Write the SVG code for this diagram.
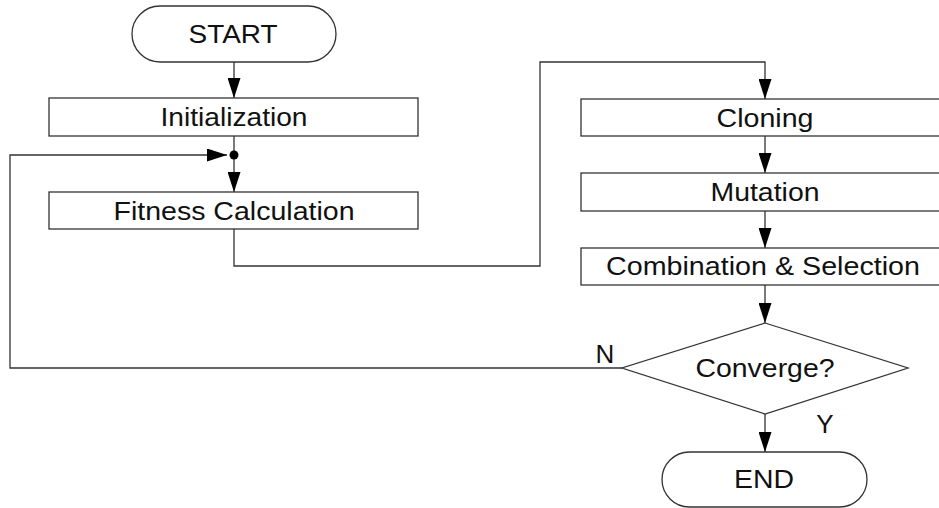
<svg xmlns="http://www.w3.org/2000/svg" width="939" height="508" viewBox="0 0 939 508">
<style>
.sh{fill:#fff;stroke:#333;stroke-width:1.3}
.ln{fill:none;stroke:#333;stroke-width:1.3}
.t{font-family:"Liberation Sans",Arial,sans-serif;font-size:26px;fill:#111;text-anchor:middle}
</style>
<defs>
<marker id="ah" markerUnits="userSpaceOnUse" markerWidth="20" markerHeight="13" refX="20" refY="6.5" orient="auto">
<path d="M0,0 L20,6.5 L0,13 z" fill="#000"/>
</marker>
</defs>
<rect width="939" height="508" fill="#fff"/>
<g id="connectors">
<line class="ln" x1="234" y1="62" x2="234" y2="98" marker-end="url(#ah)"/>
<line class="ln" x1="234" y1="136" x2="234" y2="192" marker-end="url(#ah)"/>
<polyline class="ln" points="622,368 10,368 10,155 227,155" marker-end="url(#ah)"/>
<circle cx="234" cy="155" r="4.5" fill="#000"/>
<polyline class="ln" points="234,229 234,266 540,266 540,62 765,62 765,99" marker-end="url(#ah)"/>
<line class="ln" x1="765" y1="136" x2="765" y2="173" marker-end="url(#ah)"/>
<line class="ln" x1="765" y1="211" x2="765" y2="248" marker-end="url(#ah)"/>
<line class="ln" x1="765" y1="285" x2="765" y2="323" marker-end="url(#ah)"/>
<line class="ln" x1="765" y1="414" x2="765" y2="452" marker-end="url(#ah)"/>
<text class="t" x="605" y="363">N</text>
<text class="t" x="825" y="433">Y</text>
</g>
<g id="start">
<rect class="sh" x="132" y="6" width="204" height="56" rx="28" ry="28"/>
<text class="t" x="233" y="43" textLength="89" lengthAdjust="spacingAndGlyphs">START</text>
</g>
<g id="init">
<rect class="sh" x="49" y="98" width="369" height="38"/>
<text class="t" x="234" y="126" textLength="147" lengthAdjust="spacingAndGlyphs">Initialization</text>
</g>
<g id="fitness">
<rect class="sh" x="49" y="192" width="369" height="37"/>
<text class="t" x="234" y="219.5" textLength="241" lengthAdjust="spacingAndGlyphs">Fitness Calculation</text>
</g>
<g id="cloning">
<rect class="sh" x="581" y="99" width="370" height="37"/>
<text class="t" x="765" y="126.5" textLength="97" lengthAdjust="spacingAndGlyphs">Cloning</text>
</g>
<g id="mutation">
<rect class="sh" x="581" y="173" width="370" height="38"/>
<text class="t" x="765" y="201" textLength="109" lengthAdjust="spacingAndGlyphs">Mutation</text>
</g>
<g id="combination">
<rect class="sh" x="581" y="248" width="370" height="37"/>
<text class="t" x="763" y="275" textLength="314" lengthAdjust="spacingAndGlyphs">Combination &amp; Selection</text>
</g>
<g id="converge">
<polygon class="sh" points="765,323 908,368 765,414 622,368"/>
<text class="t" x="765" y="377" textLength="139" lengthAdjust="spacingAndGlyphs">Converge?</text>
</g>
<g id="end">
<rect class="sh" x="662" y="452" width="205" height="55" rx="27.5" ry="27.5"/>
<text class="t" x="764" y="488" textLength="60" lengthAdjust="spacingAndGlyphs">END</text>
</g>
</svg>
